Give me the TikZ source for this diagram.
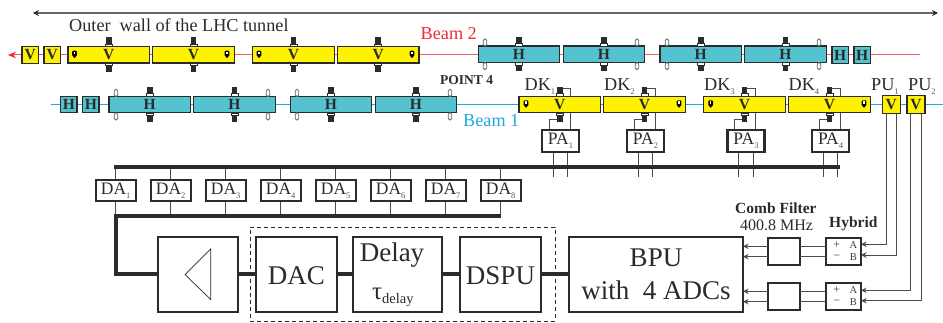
\documentclass[tikz,border=0pt]{standalone}
\usepackage{fontspec}
\setmainfont{Liberation Serif}
\usetikzlibrary{arrows.meta,calc,backgrounds}
\definecolor{cyel}{HTML}{FFF200}
\definecolor{cteal}{HTML}{55C3CF}
\definecolor{cred}{HTML}{EF5B68}
\definecolor{ctip}{HTML}{EE2A3A}
\definecolor{cblue}{HTML}{1FA9E1}
\definecolor{ink}{HTML}{2B2B2B}
\newcommand\fsz[1]{\fontsize{#1}{#1}\selectfont}
\newcommand\subz[1]{\raisebox{-4pt}{\fsz{8.5}\color{black!65}#1}}
\newcommand\BigPort[3]{%
  \fill[ink] (#1-2.9,#2-9) rectangle (#1+2.9,#2-2.6);
  \draw[ink,line width=.7,fill=white] (#1-3.6,#2-2.6) rectangle (#1+3.6,#2);
  \draw[ink,line width=.7,fill=white] (#1-3.6,#3) rectangle (#1+3.6,#3+2.6);
  \fill[ink] (#1-2.9,#3+2.6) rectangle (#1+2.9,#3+9);}
\newcommand\SmallPort[3]{%
  \draw[black!60,line width=.8,fill=white,rounded corners=1.4] (#1-1.7,#2) rectangle (#1+1.7,#2-7);
  \draw[black!60,line width=.8,fill=white,rounded corners=1.4] (#1-1.7,#3) rectangle (#1+1.7,#3+7);}
\newcommand\Mark[2]{%
  \fill[black,rounded corners=1] (#1-2.4,#2-3.6) rectangle (#1+2.4,#2+1.6);
  \fill[white] (#1-.6,#2-2.6) rectangle (#1+.6,#2+.2);
  \fill[black] (#1-2.4,#2+1) -- (#1+2.4,#2+1) -- (#1,#2+3.8) -- cycle;}
\tikzset{
  x=1pt,y=-1pt,
  base/.style={draw=ink,line width=1.3,inner sep=0,outer sep=0,text=ink,font=\fsz{15.5}\bfseries},
  ylong/.style={base,fill=cyel,minimum width=81.5,minimum height=16.5},
  hlong/.style={base,fill=cteal,minimum width=81.5,minimum height=16.5},
  hshort/.style={base,fill=cteal,minimum width=16.5,minimum height=16.5},
  yshort/.style={base,fill=cyel,minimum width=16.5,minimum height=16.5},
  pubox/.style={base,fill=cyel,minimum width=18,minimum height=18.5},
  ampbox/.style={draw=ink,line width=2.2,inner sep=0,outer sep=0,fill=white,text=ink,font=\fsz{17.5}},
  dabox/.style={ampbox,minimum width=40,minimum height=20.5},
  pabox/.style={ampbox,minimum width=37,minimum height=22},
  bigbox/.style={ampbox,minimum height=75,font=\fsz{27}},
  smallbox/.style={ampbox,minimum height=27},
  wire/.style={draw=black!70,line width=.9},
  thick bus/.style={draw=ink,line width=4},
  tiparrow/.style={-{Stealth[length=5.5,width=5.5]}},
  lab/.style={anchor=base west,inner sep=0,text=ink,font=\fsz{18.2}},
}
\begin{document}
\begin{tikzpicture}
\useasboundingbox (0,0) rectangle (943,323);
% coordinates for free ends
\coordinate (wallL) at (33,13);
\coordinate (wallR) at (938,13);
\coordinate (b2L) at (8,55);
\coordinate (b2R) at (920,55);
\coordinate (b1L) at (51,104.6);
\coordinate (b1R) at (943,104.6);
\coordinate (busA) at (114,166.6);
\coordinate (busB) at (840,166.6);
\coordinate (busC) at (501,216);
\coordinate (busD) at (115.7,216);
\coordinate (busE) at (115.7,274.5);
% top row
\node[yshort] (v1) at (30.3,55) {V};
\node[yshort] (v2) at (52.3,55) {V};
\node[ylong] (ya) at (108.7,54.7) {V};
\node[ylong] (yb) at (193.5,54.7) {V};
\node[ylong] (yc) at (293.5,54.7) {V};
\node[ylong] (yd) at (378.2,54.7) {V};
\node[hlong] (ha) at (519,54.3) {H};
\node[hlong] (hb) at (604,54.3) {H};
\node[hlong] (hc) at (700.7,54.3) {H};
\node[hlong] (hd) at (785.5,54.3) {H};
\node[hshort] (he) at (840.2,55) {H};
\node[hshort] (hf) at (862.2,55) {H};
% lower row
\node[hshort] (h1) at (68.8,104.6) {H};
\node[hshort] (h2) at (90.8,104.6) {H};
\node[hlong] (hA) at (149.7,104.6) {H};
\node[hlong] (hB) at (234.5,104.6) {H};
\node[hlong] (hC) at (331,104.6) {H};
\node[hlong] (hD) at (416,104.6) {H};
\node[ylong] (DK1) at (559.7,104.6) {V};
\node[ylong] (DK2) at (644.5,104.6) {V};
\node[ylong] (DK3) at (744.5,104.6) {V};
\node[ylong] (DK4) at (829.5,104.6) {V};
\node[pubox] (PU1) at (891.2,104.6) {V};
\node[pubox] (PU2) at (916,104.6) {V};
% ports
\foreach \p in {108.7,193.5,293.5,378.2}{\BigPort{\p}{46.5}{63}}
\foreach \p in {519,604,700.7,785.5}{\BigPort{\p}{46}{62.5}}
\foreach \p in {149.7,234.5,331,416}{\BigPort{\p}{96.4}{112.9}}
\foreach \p in {559.7,644.5,744.5,829.5}{\BigPort{\p}{96.4}{112.9}}
\foreach \p in {485,637,667,819}{\SmallPort{\p}{46}{62.5}}
\foreach \p in {116,268,297,450}{\SmallPort{\p}{96.4}{112.9}}
\foreach \p in {74.5,227,259,412}{\Mark{\p}{54.3}}
\foreach \p in {526,679,710.7,864}{\Mark{\p}{104}}
% PA and DA
\foreach \i/\x in {1/560.5,2/645.5,3/746,4/830.5}{
  \node[pabox] (PA\i) at (\x,141) {PA\subz{\i}};
}
\foreach \i in {1,...,8}{
  \node[dabox] (DA\i) at ({115.7+55*(\i-1)},190.5) {DA\subz{\i}};
}
% main chain
\node[bigbox,minimum width=80] (amp) at (198,274.5) {};
\node[bigbox,minimum width=81] (DAC) at (296.5,274.5) {};
\node[bigbox,minimum width=89] (delay) at (397.5,274.5) {};
\node[bigbox,minimum width=81] (DSPU) at (500.5,274.5) {};
\node[bigbox,minimum width=174] (BPU) at (656,274.5) {};
\node[anchor=base,inner sep=0,text=ink,font=\fsz{27}] (tdac) at (296.5,284) {DAC};
\node[anchor=base,inner sep=0,text=ink,font=\fsz{27}] (tdelay) at (392,262) {Delay};
\node[anchor=base west,inner sep=0,text=ink,font=\fsz{25}] (ttau) at (372,300) {τ\raisebox{-3pt}{\fsz{14.5}delay}};
\node[anchor=base,inner sep=0,text=ink,font=\fsz{27}] (tdspu) at (500.5,284) {DSPU};
\node[anchor=base,inner sep=0,text=ink,font=\fsz{27}] (tbpu) at (656,267) {BPU};
\node[anchor=base,inner sep=0,text=ink,font=\fsz{27}] (tadc) at (656,299) {with\ \ 4 ADCs};
\node[draw=ink,line width=.7,dash pattern=on 4pt off 3pt,minimum width=305,minimum height=94,inner sep=0] (dash) at (402.5,274) {};
\coordinate (ta) at (185,274.5);
\coordinate (tb) at (210.7,249);
\coordinate (tc) at (210.7,299.5);
\draw[ink,line width=.7] (ta) -- (tb) -- (tc) -- cycle;
% comb and hybrid
\node[smallbox,minimum width=32] (comb1) at (783.7,251.5) {};
\node[smallbox,minimum width=32] (comb2) at (783.7,296.5) {};
\node[smallbox,minimum width=35] (hyb1) at (843.5,251.5) {};
\node[smallbox,minimum width=35] (hyb2) at (843.5,296.5) {};
\foreach \h/\y in {1/251.5,2/296.5}{
  \node[inner sep=0,text=black!75,font=\fsz{12}] (plus\h) at (836.7,\y-6.8) {+};
  \node[inner sep=0,text=black!75,font=\fsz{12}] (minus\h) at (836.7,\y+6.3) {−};
  \node[inner sep=0,text=black!75,font=\fsz{10.5}] (la\h) at (853.3,\y-6) {A};
  \node[inner sep=0,text=black!75,font=\fsz{10.5}] (lb\h) at (853.3,\y+5.5) {B};
}
% text labels
\node[lab] (wall) at (69,31.5) {Outer\ \ wall of the LHC tunnel};
\node[lab,text=ctip] (beam2) at (420.5,40) {Beam 2};
\node[lab,text=cblue] (beam1) at (463,127) {Beam 1};
\node[lab,font=\fsz{13.5}\bfseries] (pt4) at (440,85) {POINT 4};
\node[lab] (lk1) at (524.5,90.7) {DK\subz{1}};
\node[lab] (lk2) at (604,90.7) {DK\subz{2}};
\node[lab] (lk3) at (704,90.7) {DK\subz{3}};
\node[lab] (lk4) at (788.5,90.7) {DK\subz{4}};
\node[lab] (lp1) at (871,90.7) {PU\subz{1}};
\node[lab] (lp2) at (908,90.7) {PU\subz{2}};
\node[lab,font=\fsz{15.5}\bfseries] (lcomb) at (735,214) {Comb Filter};
\node[lab,font=\fsz{16}] (lfreq) at (740,230.5) {400.8 MHz};
\node[lab,font=\fsz{15.5}\bfseries] (lhyb) at (829,228) {Hybrid};
% connectors behind the boxes
\begin{pgfonlayer}{background}
\draw[draw=black!60,line width=1.5,{Stealth[length=6,width=6,color=ink]}-{Stealth[length=6,width=6,color=ink]}] (wallL) -- (wallR);
\draw[cred,line width=1,{Stealth[length=8,width=6.5,color=ctip]}-] (b2L) -- (b2R);
\draw[cblue,line width=1] (b1L) -- (b1R);
\foreach \i in {1,...,4}{
  \draw[wire] ($(DK\i.center)+(1.5,-16)$) -| ($(PA\i.north)+(9.5,0)$);
  \draw[wire] ($(DK\i.center)+(-2,14.7)$) -| ($(PA\i.north)+(-11.5,0)$);
  \draw[wire] ($(PA\i.south)+(-7.2,0)$) -- ($(PA\i.south)+(-7.2,25)$);
  \draw[wire] ($(PA\i.south)+(7.2,0)$) -- ($(PA\i.south)+(7.2,25)$);
}
\foreach \i in {1,...,8}{
  \draw[wire] (DA\i.north) -- (DA\i.north |- busA);
  \draw[wire] (DA\i.south) -- (DA\i.south |- busC);
}
\end{pgfonlayer}
\draw[thick bus,line cap=butt] (busA) -- (busB);
\draw[thick bus,line join=miter] (busC) -- (busD) -- (busE) -- (amp.west);
\draw[thick bus] (amp.east) -- (DAC.west);
\draw[thick bus] (DAC.east) -- (delay.west);
\draw[thick bus] (delay.east) -- (DSPU.west);
\draw[thick bus] (DSPU.east) -- (BPU.west);
% filter wiring
\foreach \c in {1,2}{
  \coordinate (u\c) at ($(comb\c.west)+(0,-5.2)$);
  \coordinate (d\c) at ($(comb\c.west)+(0,5.2)$);
  \draw[wire,tiparrow] (u\c) -- (u\c -| BPU.east);
  \draw[wire,tiparrow] (d\c) -- (d\c -| BPU.east);
  \draw[wire] (u\c -| comb\c.east) -- (u\c -| hyb\c.west);
  \draw[wire] (d\c -| comb\c.east) -- (d\c -| hyb\c.west);
}
\coordinate (a1) at ($(hyb1.east)+(0,-7.2)$);
\coordinate (b1) at ($(hyb1.east)+(0,3.5)$);
\coordinate (a2) at ($(hyb2.east)+(0,-6.2)$);
\coordinate (b2) at ($(hyb2.east)+(0,4.2)$);
\draw[wire,tiparrow] ($(PU1.south)+(-5.2,0)$) |- (a1);
\draw[wire,tiparrow] ($(PU1.south)+(5,0)$) |- (b1);
\draw[wire,tiparrow] ($(PU2.south)+(-5.2,0)$) |- (a2);
\draw[wire,tiparrow] ($(PU2.south)+(5,0)$) |- (b2);
\end{tikzpicture}
\end{document}
